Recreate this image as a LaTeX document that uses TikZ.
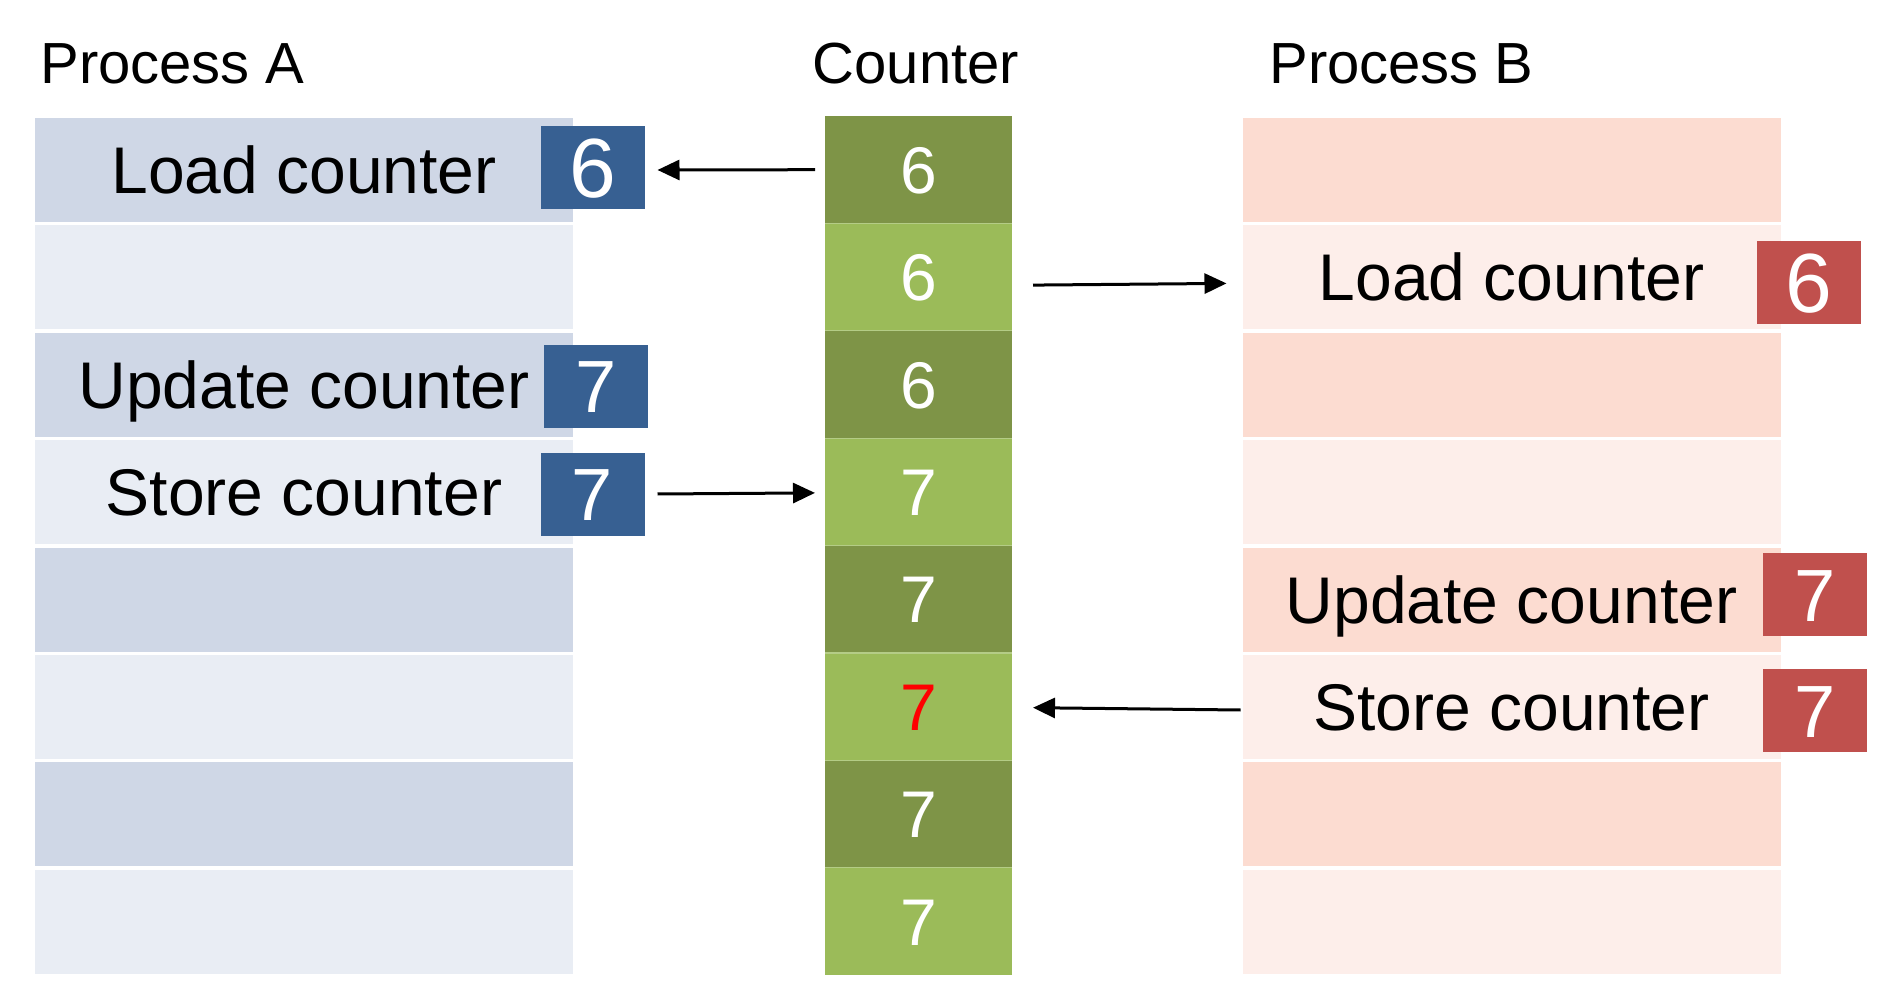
\documentclass[tikz,border=0pt]{standalone}
\usepackage{fontspec}
\setmainfont{Liberation Sans}
\usetikzlibrary{arrows.meta}
\definecolor{aDark}{HTML}{CFD7E6}
\definecolor{aLight}{HTML}{E9EDF4}
\definecolor{bDark}{HTML}{FCDCD1}
\definecolor{bLight}{HTML}{FDEEEA}
\definecolor{gDark}{HTML}{7E9447}
\definecolor{gLight}{HTML}{9BBB59}
\definecolor{gLine}{HTML}{B4CC86}
\definecolor{blueBox}{HTML}{376092}
\definecolor{redBox}{HTML}{C0504D}
\newcommand{\bodyfnt}{\fontsize{33pt}{40pt}\selectfont}
\newcommand{\titlefnt}{\fontsize{29pt}{35pt}\selectfont}
\newcommand{\sixfnt}{\fontsize{42pt}{50pt}\selectfont}
\newcommand{\sevenfnt}{\fontsize{37pt}{44pt}\selectfont}
\begin{document}
\begin{tikzpicture}[x=0.5pt,y=-0.5pt,
  rowbox/.style={minimum width=269pt, minimum height=52pt, inner sep=0pt, outer sep=0pt,
    font=\bodyfnt, text height=23.6pt, text depth=0pt},
  cellbox/.style={minimum width=93.5pt, minimum height=53.7pt, inner sep=0pt, outer sep=0pt,
    font=\bodyfnt, text=white, text height=23.6pt, text depth=0pt},
  numbox/.style={minimum width=52pt, minimum height=41.5pt, inner sep=0pt, outer sep=0pt,
    text=white, text depth=0pt},
  sixbox/.style={numbox, font=\sixfnt, text height=30pt},
  sevenbox/.style={numbox, font=\sevenfnt, text height=26.5pt},
  title/.style={font=\titlefnt, inner sep=0pt, anchor=base},
  arr/.style={-{Triangle[length=11pt,width=10pt]}, line width=1.5pt, black}
]
\useasboundingbox (0,0) rectangle (1886,1000);

% titles
\node[title, anchor=base west] (tA) at (40,84) {Process A};
\node[title] (tC) at (916,84) {Counter};
\node[title, anchor=base west] (tB) at (1269,84) {Process B};

% Process A rows
\node[rowbox, fill=aDark]  (a1) at (304,170) {Load counter};
\node[rowbox, fill=aLight] (a2) at (304,277.4) {};
\node[rowbox, fill=aDark]  (a3) at (304,384.8) {Update counter};
\node[rowbox, fill=aLight] (a4) at (304,492.2) {Store counter};
\node[rowbox, fill=aDark]  (a5) at (304,599.6) {};
\node[rowbox, fill=aLight] (a6) at (304,707) {};
\node[rowbox, fill=aDark]  (a7) at (304,814.4) {};
\node[rowbox, fill=aLight] (a8) at (304,921.8) {};

% Process B rows
\node[rowbox, fill=bDark]  (b1) at (1511.5,170) {};
\node[rowbox, fill=bLight] (b2) at (1511.5,277.4) {Load counter};
\node[rowbox, fill=bDark]  (b3) at (1511.5,384.8) {};
\node[rowbox, fill=bLight] (b4) at (1511.5,492.2) {};
\node[rowbox, fill=bDark]  (b5) at (1511.5,599.6) {Update counter};
\node[rowbox, fill=bLight] (b6) at (1511.5,707) {Store counter};
\node[rowbox, fill=bDark]  (b7) at (1511.5,814.4) {};
\node[rowbox, fill=bLight] (b8) at (1511.5,921.8) {};

% Counter cells
\node[cellbox, fill=gDark]  (c1) at (918.5,169.7) {6};
\node[cellbox, fill=gLight] (c2) at (918.5,277.1) {6};
\node[cellbox, fill=gDark]  (c3) at (918.5,384.5) {6};
\node[cellbox, fill=gLight] (c4) at (918.5,491.9) {7};
\node[cellbox, fill=gDark]  (c5) at (918.5,599.3) {7};
\node[cellbox, fill=gLight, text=red] (c6) at (918.5,706.7) {7};
\node[cellbox, fill=gDark]  (c7) at (918.5,814.1) {7};
\node[cellbox, fill=gLight] (c8) at (918.5,921.5) {7};
\foreach \i in {1,...,7} {
  \draw[gLine, line width=0.6pt] (c\i.south west) -- (c\i.south east);
}

% value boxes
\node[sixbox, fill=blueBox]   (v1) at (592.5,168) {6};
\node[sevenbox, fill=blueBox] (v3) at (596,386.5) {7};
\node[sevenbox, fill=blueBox] (v4) at (592.5,494) {7};
\node[sixbox, fill=redBox]    (w2) at (1808.5,282.5) {6};
\node[sevenbox, fill=redBox]  (w5) at (1815,594.5) {7};
\node[sevenbox, fill=redBox]  (w6) at (1815,710.5) {7};

% arrows
\draw[arr] ([xshift=-5pt]c1.west) -- ([xshift=6.5pt,yshift=-1pt]v1.east);
\draw[arr] ([xshift=10.5pt,yshift=-4pt]c2.east) -- ([xshift=-8pt,yshift=-3pt]b2.west);
\draw[arr] ([xshift=6.5pt]v4.east) -- ([xshift=-5pt,yshift=-0.5pt]c4.west);
\draw[arr] ([xshift=-1pt,yshift=-1.5pt]b6.west) -- ([xshift=10.5pt,yshift=-0.5pt]c6.east);
\end{tikzpicture}
\end{document}
